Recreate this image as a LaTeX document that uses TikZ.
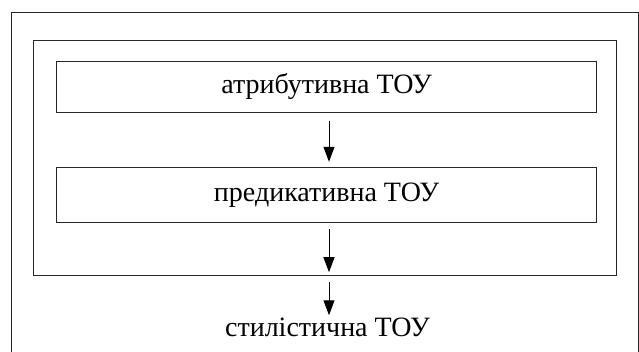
\documentclass[tikz,border=0pt]{standalone}
\usepackage{fontspec}
\setmainfont{Liberation Serif}
\usetikzlibrary{arrows.meta}
\tikzset{
  frame/.style={draw=black!85, line width=1pt},
  stagebox/.style={frame, minimum width=539.8pt, inner sep=0pt, font=\fontsize{28pt}{32pt}\selectfont},
  flowarrow/.style={draw=black, line width=1pt, -{Triangle[length=15pt,width=11pt]}},
  plain/.style={inner sep=0pt, font=\fontsize{28pt}{32pt}\selectfont}
}
\begin{document}
\begin{tikzpicture}[x=1pt,y=-1pt]
\useasboundingbox (0,0) rectangle (639,352);
\clip (0,0) rectangle (639,352);
\draw[frame] (11.3,12.7) rectangle (638.2,370);
\node[frame, minimum width=583pt, minimum height=235.4pt, inner sep=0pt] (inner) at (325.2,158) {};
\node[stagebox, minimum height=50.6pt] (b1) at (326.6,86.9) {атрибутивна ТОУ};
\node[stagebox, minimum height=55pt] (b2) at (326.6,194.8) {предикативна ТОУ};
\node[plain, anchor=base] (b3) at (327.5,336) {стилістична ТОУ};
\draw[flowarrow, shorten <=8pt, shorten >=5pt] ([xshift=2.4pt]b1.south) -- ([xshift=2.4pt]b2.north);
\draw[flowarrow, shorten <=6pt, shorten >=4pt] ([xshift=2.4pt]b2.south) -- ([xshift=3.8pt]inner.south);
\draw[flowarrow, shorten <=6pt, shorten >=2pt] ([xshift=3.8pt]inner.south) -- ([xshift=1.5pt]b3.north);
\end{tikzpicture}
\end{document}
